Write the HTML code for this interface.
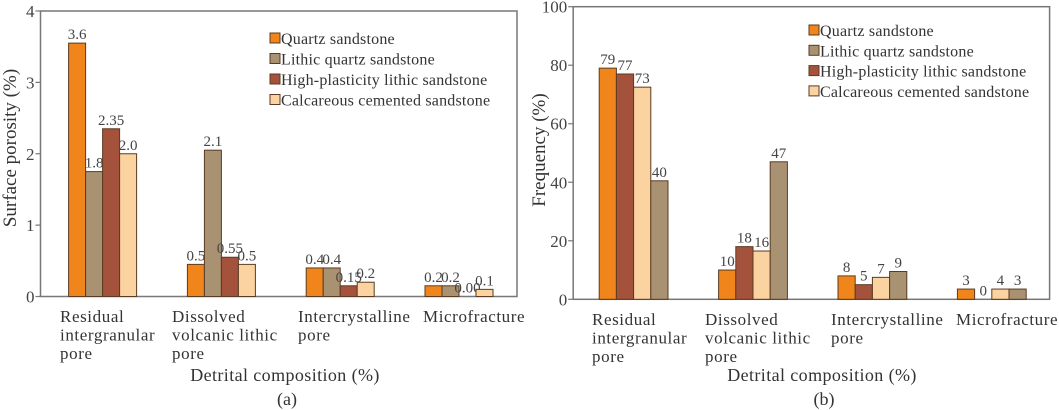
<!DOCTYPE html>
<html><head><meta charset="utf-8"><style>
html,body{margin:0;padding:0;background:#fff;}
svg{display:block;font-family:"Liberation Serif",serif;}
</style></head><body>
<svg id="root" width="1059" height="410" viewBox="0 0 1059 410"></svg>
<script>
const categories = [["Residual","intergranular","pore"],["Dissolved","volcanic lithic","pore"],["Intercrystalline","pore"],["Microfracture"]];
const seriesNames = ["Quartz sandstone","Lithic quartz sandstone","High-plasticity lithic sandstone","Calcareous cemented sandstone"];
const seriesColors = ["#f0861b","#a89272","#a4523c","#fbd3a0"];
// chart (a) values, bar order Q, L, H, C
const aQuartz = [3.55,0.45,0.4,0.15];
const aLithic = [1.75,2.05,0.4,0.15];
const aHigh = [2.35,0.55,0.15,0];
const aCalc = [2.0,0.45,0.2,0.1];
const aQuartzLbl = ["3.6","0.5","0.4","0.2"];
const aLithicLbl = ["1.8","2.1","0.4","0.2"];
const aHighLbl = ["2.35","0.55","0.15","0.00"];
const aCalcLbl = ["2.0","0.5","0.2","0.1"];
const aTicks = [0,1,2,3,4];
// chart (b) values, bar order Q, H, C, L
const bQuartz = [79,10,8,3.5];
const bHigh = [77,18,5,0];
const bCalc = [72.5,16.5,7.5,3.5];
const bLithic = [40.5,47,9.5,3.5];
const bQuartzLbl = ["79","10","8","3"];
const bHighLbl = ["77","18","5","0"];
const bCalcLbl = ["73","16","7","4"];
const bLithicLbl = ["40","47","9","3"];
const bTicks = [0,20,40,60,80,100];

const NS="http://www.w3.org/2000/svg";
const root=document.getElementById('root');
function mk(tag,attrs,parent,text){const e=document.createElementNS(NS,tag);for(const k in attrs)e.setAttribute(k,attrs[k]);if(text!==undefined)e.textContent=text;(parent||root).appendChild(e);return e;}

function chart(cfg){
  const g=mk('g',{});
  
  
  const {L,T,R,B,max}=cfg;
  const y=v=>B-(v/max)*(B-T);
  const x=(ci,si)=>cfg.groupStart+ci*cfg.groupStep+si*cfg.barW;
  const frame=mk('rect',{x:L,y:T,width:R-L,height:B-T,fill:'none',stroke:'#777','stroke-width':1.5},g);
  
  
  cfg.ticks.forEach(t=>{
    const ln=mk('line',{x1:L-5,x2:L,y1:y(t),y2:y(t),stroke:'#777','stroke-width':1.2},g);
    
    
    const tx=mk('text',{x:L-6,y:y(t)+6,'text-anchor':'end','font-size':17,fill:'#444'},g,String(t));
    
    
  });
  cfg.series.forEach((s,si)=>{
    s.vals.forEach((v,ci)=>{
      const bx=x(ci,si);
      if(v>0){
        const r=mk('rect',{x:bx,y:y(v),width:cfg.barW,height:B-y(v),fill:s.color,stroke:'#5b3b22','stroke-width':1},g);
        
        
      }
      const lt=mk('text',{x:bx+cfg.barW/2,y:y(v)-4,'text-anchor':'middle','font-size':15,fill:'#444'},g,s.lbls[ci]);
      
      
    });
  });
  categories.forEach((c,ci)=>{
    c.forEach((line,li)=>{
      const ct=mk('text',{x:cfg.catX[ci],y:cfg.catY+li*18.5,'font-size':17,fill:'#333','letter-spacing':'0.6'},g,line);
      
      
    });
  });
  const xt=mk('text',{x:cfg.xTitleX,y:381,'text-anchor':'middle','font-size':18,fill:'#333','letter-spacing':'0.4'},g,'Detrital composition (%)');
  
  
  const yt=mk('text',{x:0,y:0,'text-anchor':'middle','font-size':19,fill:'#333',transform:`translate(${cfg.yTitleX},${cfg.yTitleY}) rotate(-90)`},g,cfg.yTitle);
  
  
  const pl=mk('text',{x:cfg.xTitleX+2,y:405,'text-anchor':'middle','font-size':18,fill:'#333'},g,cfg.panel);
  
  
  seriesNames.forEach((n,i)=>{
    const ly=cfg.legY+i*cfg.legStep;
    const sq=mk('rect',{x:cfg.legX,y:ly-11,width:10,height:10,fill:seriesColors[i],stroke:'#5b3b22','stroke-width':1},g);
    
    
    const lt=mk('text',{x:cfg.legX+11,y:ly,'font-size':16,fill:'#333','letter-spacing':'0.2'},g,n);
    
    
  });
}

chart({name:'chart-a',L:40.5,T:11,R:517,B:296.5,max:4,ticks:aTicks,
  groupStart:68.6,groupStep:118.8,barW:17,
  series:[{key:'quartz',vals:aQuartz,lbls:aQuartzLbl,color:seriesColors[0]},
          {key:'lithic',vals:aLithic,lbls:aLithicLbl,color:seriesColors[1]},
          {key:'high',vals:aHigh,lbls:aHighLbl,color:seriesColors[2]},
          {key:'calc',vals:aCalc,lbls:aCalcLbl,color:seriesColors[3]}],
  catX:[60,172,298,423],catY:322,xTitleX:285,yTitle:'Surface porosity (%)',yTitleX:16,yTitleY:148,panel:'(a)',
  legX:270,legY:44,legStep:20.5});

chart({name:'chart-b',L:573.2,T:6.7,R:1049.6,B:299.3,max:100,ticks:bTicks,
  groupStart:599.2,groupStep:119.4,barW:17.2,
  series:[{key:'quartz',vals:bQuartz,lbls:bQuartzLbl,color:seriesColors[0]},
          {key:'high',vals:bHigh,lbls:bHighLbl,color:seriesColors[2]},
          {key:'calc',vals:bCalc,lbls:bCalcLbl,color:seriesColors[3]},
          {key:'lithic',vals:bLithic,lbls:bLithicLbl,color:seriesColors[1]}],
  catX:[592,705,831,956],catY:325,xTitleX:822,yTitle:'Frequency (%)',yTitleX:545,yTitleY:150,panel:'(b)',
  legX:809,legY:36,legStep:20.3});
</script>
</body></html>
